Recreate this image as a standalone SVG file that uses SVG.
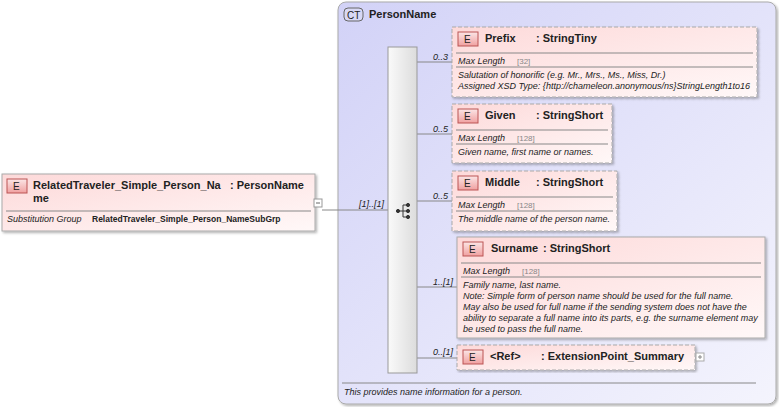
<svg xmlns="http://www.w3.org/2000/svg" width="779" height="407" viewBox="0 0 779 407">
<defs>
<linearGradient id="eg" x1="0" y1="0" x2="1" y2="1"><stop offset="0" stop-color="#fdd9d9"/><stop offset="1" stop-color="#fff8f8"/></linearGradient>
<linearGradient id="ct" x1="0" y1="0" x2="1" y2="1"><stop offset="0" stop-color="#d2d2f7"/><stop offset="1" stop-color="#f4f4fd"/></linearGradient>
<linearGradient id="bar" x1="0" y1="0" x2="1" y2="0"><stop offset="0" stop-color="#fafafa"/><stop offset="1" stop-color="#dcdcdc"/></linearGradient>
<linearGradient id="badge" x1="0" y1="0" x2="0" y2="1"><stop offset="0" stop-color="#fbe6e6"/><stop offset="1" stop-color="#f0a0a0"/></linearGradient>
<filter id="sh"><feDropShadow dx="1.5" dy="1.5" stdDeviation="1" flood-opacity="0.3"/></filter>
</defs>
<style>
text{font-family:"Liberation Sans",Arial,sans-serif;fill:#222}
.t{font-size:11px;font-weight:bold}
.s{font-size:9px;font-style:italic}
.v{font-size:8px;fill:#888}
.box{fill:url(#eg);stroke:#aaa;filter:url(#sh)}
.dash{stroke-dasharray:4,2}
.sep{stroke:#888;stroke-width:1}
.ln{stroke:#888;fill:none}
.bd{fill:url(#badge);stroke:#b55}
</style>
<g id="PersonName">
<rect x="338" y="2" width="438" height="402" rx="8" fill="url(#ct)" stroke="#aaa" filter="url(#sh)"/>
<rect x="344" y="8" width="19" height="13" rx="4" fill="#d8d8f5" stroke="#666"/>
<text x="347" y="18.5" style="font-size:10px">CT</text>
<text x="369" y="18" class="t">PersonName</text>
<line x1="342" y1="383" x2="756" y2="383" class="sep"/>
<text x="344" y="395" class="s">This provides name information for a person.</text>
</g>
<g id="connectors">
<line x1="322" y1="210" x2="388" y2="210" class="ln"/>
<line x1="417" y1="62" x2="452" y2="62" class="ln"/>
<line x1="417" y1="134" x2="452" y2="134" class="ln"/>
<line x1="417" y1="201" x2="452" y2="201" class="ln"/>
<line x1="417" y1="287" x2="457" y2="287" class="ln"/>
<line x1="417" y1="358" x2="457" y2="358" class="ln"/>
<text x="359" y="207" class="s">[1]..[1]</text>
<text x="433" y="60" class="s">0..3</text>
<text x="433" y="132" class="s">0..5</text>
<text x="433" y="199" class="s">0..5</text>
<text x="433" y="285" class="s">1..[1]</text>
<text x="433" y="355" class="s">0..[1]</text>
</g>
<g id="sequence">
<rect x="388" y="47" width="29" height="326" fill="url(#bar)" stroke="#999"/>
<g stroke="#333" fill="#333">
<circle cx="398" cy="211" r="1.6"/><line x1="398" y1="211" x2="403" y2="211"/>
<line x1="403" y1="205" x2="403" y2="217"/>
<line x1="403" y1="205" x2="407" y2="205"/><line x1="403" y1="211" x2="407" y2="211"/><line x1="403" y1="217" x2="407" y2="217"/>
<circle cx="408" cy="205" r="1.6"/><circle cx="408" cy="211" r="1.6"/><circle cx="408" cy="217" r="1.6"/>
</g>
</g>
<g id="RelatedTraveler">
<rect x="2" y="174" width="313" height="57" class="box"/>
<rect x="7" y="179" width="20" height="14" class="bd"/>
<text x="13" y="190" style="font-size:10px">E</text>
<text x="33" y="189" class="t">RelatedTraveler_Simple_Person_Na</text>
<text x="33" y="202" class="t">me</text>
<text x="230" y="189" class="t">: PersonName</text>
<line x1="6" y1="211" x2="311" y2="211" class="sep"/>
<text x="7" y="222" class="s">Substitution Group</text>
<text x="92" y="222" style="font-size:8.5px;font-weight:bold">RelatedTraveler_Simple_Person_NameSubGrp</text>
<rect x="314" y="199" width="8" height="8" fill="#fff" stroke="#999"/>
<line x1="316" y1="203" x2="320" y2="203" stroke="#666"/>
</g>
<g id="Prefix">
<rect x="452" y="27" width="305" height="70" class="box dash"/>
<rect x="458" y="32" width="20" height="14" class="bd"/>
<text x="464" y="43" style="font-size:10px">E</text>
<text x="485" y="42" class="t">Prefix</text><text x="536" y="42" class="t">: StringTiny</text>
<line x1="456" y1="53" x2="753" y2="53" class="sep"/>
<text x="458" y="64" class="s">Max Length</text><text x="517" y="64" class="v">[32]</text>
<line x1="456" y1="67" x2="753" y2="67" class="sep"/>
<text x="458" y="78" class="s">Salutation of honorific (e.g. Mr., Mrs., Ms., Miss, Dr.)</text>
<text x="458" y="89" class="s">Assigned XSD Type: {http://chameleon.anonymous/ns}StringLength1to16</text>
</g>
<g id="Given">
<rect x="452" y="104" width="160" height="59" class="box dash"/>
<rect x="458" y="109" width="20" height="14" class="bd"/>
<text x="464" y="120" style="font-size:10px">E</text>
<text x="485" y="119" class="t">Given</text><text x="536" y="119" class="t">: StringShort</text>
<line x1="456" y1="130" x2="608" y2="130" class="sep"/>
<text x="458" y="141" class="s">Max Length</text><text x="517" y="141" class="v">[128]</text>
<line x1="456" y1="144" x2="608" y2="144" class="sep"/>
<text x="458" y="155" class="s">Given name, first name or names.</text>
</g>
<g id="Middle">
<rect x="452" y="171" width="165" height="60" class="box dash"/>
<rect x="458" y="176" width="20" height="14" class="bd"/>
<text x="464" y="187" style="font-size:10px">E</text>
<text x="485" y="186" class="t">Middle</text><text x="536" y="186" class="t">: StringShort</text>
<line x1="456" y1="197" x2="613" y2="197" class="sep"/>
<text x="458" y="208" class="s">Max Length</text><text x="517" y="208" class="v">[128]</text>
<line x1="456" y1="211" x2="613" y2="211" class="sep"/>
<text x="458" y="222" class="s">The middle name of the person name.</text>
</g>
<g id="Surname">
<rect x="457" y="237" width="308" height="101" class="box"/>
<rect x="463" y="242" width="20" height="14" class="bd"/>
<text x="469" y="253" style="font-size:10px">E</text>
<text x="491" y="252" class="t">Surname</text><text x="543" y="252" class="t">: StringShort</text>
<line x1="461" y1="263" x2="761" y2="263" class="sep"/>
<text x="463" y="274" class="s">Max Length</text><text x="522" y="274" class="v">[128]</text>
<line x1="461" y1="277" x2="761" y2="277" class="sep"/>
<text x="463" y="288" class="s">Family name, last name.</text>
<text x="463" y="299" class="s">Note: Simple form of person name should be used for the full name.</text>
<text x="463" y="310" class="s">May also be used for full name if the sending system does not have the</text>
<text x="463" y="321" class="s">ability to separate a full name into its parts, e.g. the surname element may</text>
<text x="463" y="332" class="s">be used to pass the full name.</text>
</g>
<g id="Ref">
<rect x="457" y="345" width="238" height="25" class="box dash"/>
<rect x="463" y="350" width="20" height="14" class="bd"/>
<text x="469" y="361" style="font-size:10px">E</text>
<text x="490" y="360" class="t">&lt;Ref&gt;</text><text x="541" y="360" class="t">: ExtensionPoint_Summary</text>
<rect x="696" y="353" width="8" height="8" fill="#fff" stroke="#aaa"/>
<line x1="698" y1="357" x2="702" y2="357" stroke="#888"/><line x1="700" y1="355" x2="700" y2="359" stroke="#888"/>
</g>
</svg>
